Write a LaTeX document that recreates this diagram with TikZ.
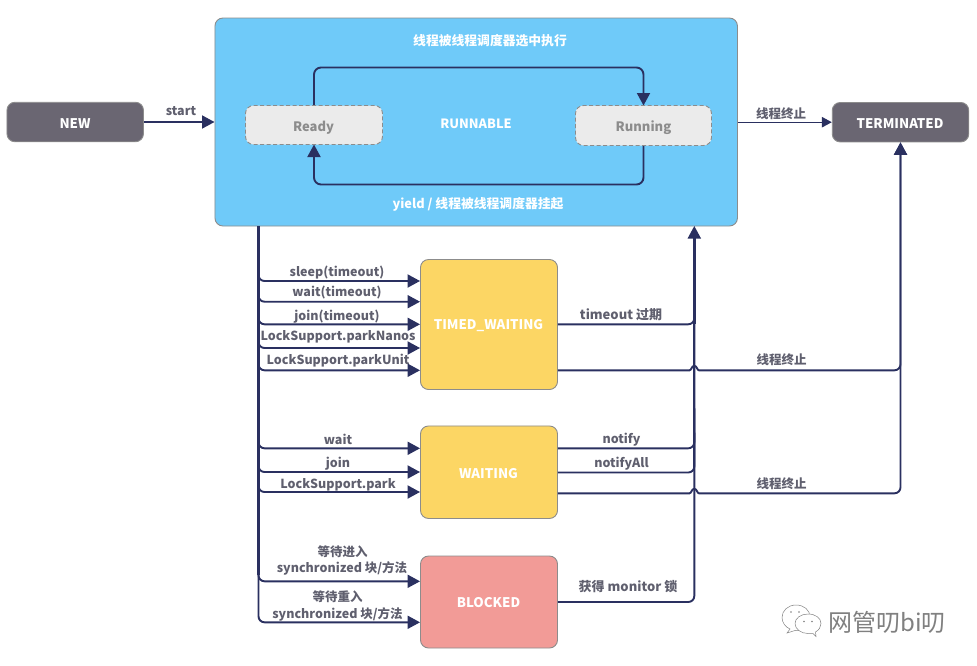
\documentclass[tikz,border=0pt]{standalone}
\usepackage{fontspec}
\setmainfont{Noto Sans CJK SC}
\usetikzlibrary{arrows.meta}
\definecolor{arrowc}{HTML}{2A3060}
\definecolor{labelc}{HTML}{5F5F6E}
\definecolor{darkbox}{HTML}{6A6672}
\definecolor{bluebox}{HTML}{6FCAF9}
\definecolor{yellowbox}{HTML}{FCD664}
\definecolor{redbox}{HTML}{F29B97}
\definecolor{greyfill}{HTML}{EBEBEB}
\definecolor{edgec}{HTML}{8C8C8C}
\tikzset{
  x=1pt,y=-1pt,
  box/.style={draw=edgec,line width=0.9pt,rounded corners=8pt,inner sep=0pt,font=\fontsize{13.3}{15}\selectfont\bfseries,text=white},
  sub/.style={draw=edgec,line width=0.9pt,dashed,dash pattern=on 4pt off 2.5pt,rounded corners=8pt,fill=greyfill,inner sep=0pt,text=edgec},
  conn/.style={draw=arrowc,line width=1.9pt},
  tip/.style={-{Triangle[length=12.5pt,width=13pt]}},
  lab/.style={inner sep=0pt,yshift=-1pt,text=labelc,font=\fontsize{12.5}{14}\selectfont\bfseries},
  labb/.style={inner sep=0pt,yshift=-1pt,text=labelc,font=\fontsize{13}{14}\selectfont\bfseries},
  wlab/.style={inner sep=0pt,yshift=-1pt,text=white,font=\fontsize{12.8}{14}\selectfont\bfseries},
  glab/.style={inner sep=0pt,yshift=-1pt,text=edgec,font=\fontsize{13}{14}\selectfont\bfseries},
  blab/.style={inner sep=0pt,yshift=-1pt,text=white,font=\fontsize{13.3}{15}\selectfont\bfseries},
}
\begin{document}
\begin{tikzpicture}
\useasboundingbox (0,0) rectangle (977,665);
% boxes
\node[box,fill=darkbox,minimum width=136.5pt,minimum height=39.5pt] (new) at (75.2,122) {};
\node[box,fill=bluebox,minimum width=522.5pt,minimum height=208pt] (run) at (476.2,122) {};
\node[box,fill=darkbox,minimum width=136.5pt,minimum height=39.5pt] (term) at (900.5,122.2) {};
\node[box,fill=yellowbox,minimum width=137pt,minimum height=130pt] (tw) at (489,324.5) {};
\node[box,fill=yellowbox,minimum width=137pt,minimum height=92.5pt] (wa) at (489,472.2) {};
\node[box,fill=redbox,minimum width=137pt,minimum height=92pt] (bl) at (489,602) {};
\node[blab] (t1) at (75,122.5) {NEW};
\node[blab] (t2) at (900,122.5) {TERMINATED};
\node[blab] (t3) at (488.5,324.5) {TIMED\_WAITING};
\node[blab] (t4) at (488.5,472.5) {WAITING};
\node[blab] (t5) at (488.5,601.5) {BLOCKED};
\coordinate (ltrunk) at (258.5,226);
\coordinate (rtrunk) at (694.3,226);
% inner loop
\draw[conn,tip,rounded corners=7pt] (314,106) -- (314,67.5) -- (643.5,67.5) -- (643.5,105.5);
\draw[conn,tip,rounded corners=7pt] (643.5,146) -- (643.5,184.5) -- (314,184.5) -- (314,144.5);
\node[sub,minimum width=137pt,minimum height=39pt] (ready) at (314,125) {};
\node[sub,minimum width=136pt,minimum height=40pt] (running) at (643.5,125.5) {};
\draw[conn,tip] (new.east) -- (run.west |- new.east);
\draw[draw=arrowc,line width=1.1pt,-{Triangle[length=10pt,width=10.5pt]}] (run.east |- term.west) -- (term.west);
% branches left
\draw[conn,line width=2.9pt] (ltrunk) -- (ltrunk |- 0,376);
\draw[conn,line width=2.3pt] (ltrunk |- 0,376) -- (ltrunk |- 0,575);
\foreach \yy/\nn in {281/tw,301.7/tw,324.3/tw,348/tw,370.3/tw,448.3/wa,472/wa,492/wa,581.3/bl,622.3/bl}{
  \draw[conn,tip,rounded corners=6pt] (ltrunk) -- (ltrunk |- 0,\yy) -- (\nn.west |- 0,\yy);
}
% right side
\draw[conn,rounded corners=6pt,tip] (bl.east) -- (rtrunk |- bl.east) -- (rtrunk);
\draw[conn,line width=2.9pt] (rtrunk |- 0,236) -- (rtrunk |- 0,324);
\draw[conn,line width=2.3pt] (rtrunk |- 0,324) -- (rtrunk |- 0,470);
\foreach \yy/\nn in {324.3/tw,448.3/wa,472.5/wa}{
  \draw[conn,rounded corners=6pt] (\nn.east |- 0,\yy) -- (rtrunk |- 0,\yy) -- (rtrunk |- 0,\yy-40);
}
\foreach \yy/\nn in {370.3/tw,493.3/wa}{
  \draw[conn,tip] (\nn.east |- 0,\yy) -- (689.5,\yy) .. controls (691.5,\yy) and (691.5,\yy-4.5) .. (694.3,\yy-4.5) .. controls (697,\yy-4.5) and (697,\yy) .. (699,\yy) [rounded corners=6pt] -- (term.south |- 0,\yy) -- (term.south);
}
% labels
\node[wlab] (n1) at (490,40) {线程被线程调度器选中执行};
\node[wlab] (n2) at (478,203) {yield / 线程被线程调度器挂起};
\node[wlab] (n3) at (476,123) {RUNNABLE};
\node[glab] (n4) at (313.5,126.5) {Ready};
\node[glab] (n5) at (643.5,126.5) {Running};
\node[lab] (n6) at (181,110.5) {start};
\node[lab] (n7) at (781,112.5) {线程终止};
\node[lab] (a1) at (337,272) {sleep(timeout)};
\node[lab] (a2) at (337,291.5) {wait(timeout)};
\node[lab] (a3) at (337,315.5) {join(timeout)};
\node[lab] (a4) at (338,335.5) {LockSupport.parkNanos};
\node[lab] (a5) at (338,360) {LockSupport.parkUnit};
\node[lab] (a6) at (338,438) {wait};
\node[lab] (a7) at (338,462.5) {join};
\node[lab] (a8) at (338,483.5) {LockSupport.park};
\node[lab] (a9) at (342.5,550.5) {等待进入};
\node[lab] (a10) at (342,567.5) {synchronized 块/方法};
\node[lab] (a11) at (337.5,596) {等待重入};
\node[lab] (a12) at (337.5,613) {synchronized 块/方法};
\node[labb] (b1) at (621,314) {timeout 过期};
\node[lab] (b2) at (621.5,439) {notify};
\node[lab] (b3) at (621.5,462.5) {notifyAll};
\node[lab] (b4) at (781.5,359) {线程终止};
\node[lab] (b5) at (781.5,483) {线程终止};
\node[labb] (b6) at (628,586) {获得 monitor 锁};
% watermark
\begin{scope}[draw=black!50,line width=0.5pt]
\draw[fill=white] (790,629) -- (787,633) -- (795,630.5) .. controls (805,631) and (810,624) .. (810,617) .. controls (810,610) and (804,605) .. (796,605) .. controls (788,605) and (782,610.5) .. (782,617.5) .. controls (782,622) and (785,627) .. (790,629) -- cycle;
\draw[fill=white] (813,633.5) -- (816,636.5) -- (815.5,632) .. controls (819,630) and (821,627) .. (821,623.5) .. controls (821,618) and (815.5,614) .. (808,614) .. controls (801,614) and (795,618) .. (795,623.5) .. controls (795,629) and (801,633.5) .. (808,633.5) -- cycle;
\fill[black!50] (791,612) circle (0.9) (799,612) circle (0.9) (804,621.5) circle (0.9) (812,621.5) circle (0.9);
\end{scope}
\node[inner sep=0pt,text=black!50,font=\fontsize{24}{26}\selectfont] (wm) at (887,622.5) {网管叨bi叨};
\end{tikzpicture}
\end{document}
